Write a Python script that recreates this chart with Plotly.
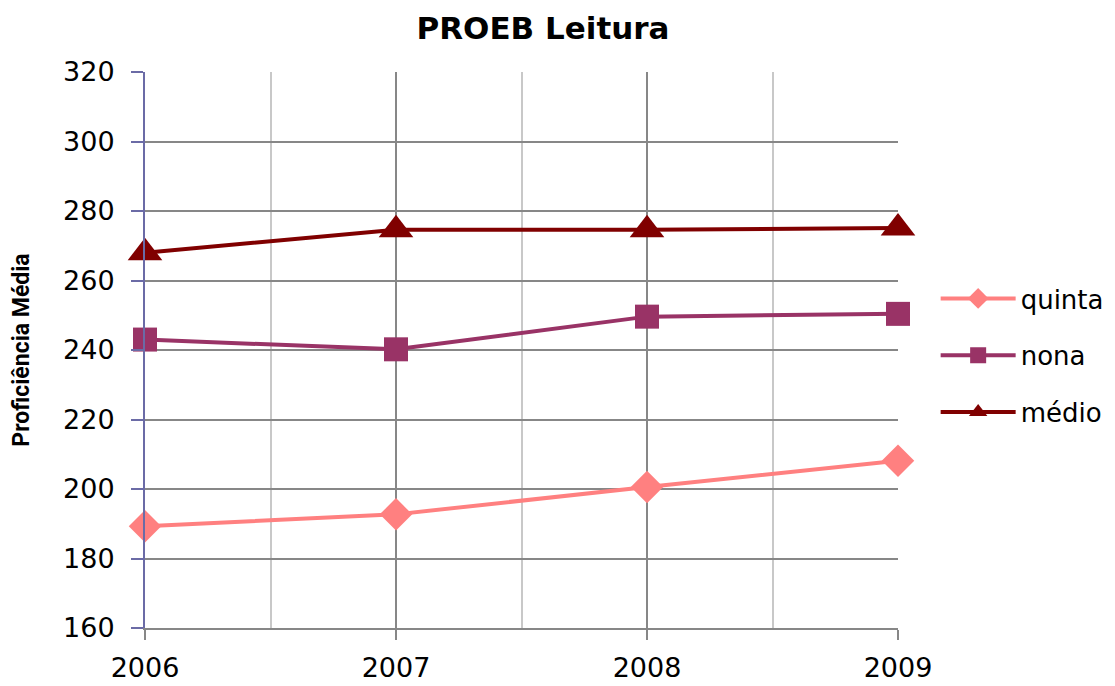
import plotly.graph_objects as go

years = [2006, 2007, 2008, 2009]
quinta = [189.3, 192.7, 200.6, 208.1]
nona = [243.0, 240.2, 249.6, 250.4]
medio = [268.0, 274.6, 274.6, 275.1]

series_names = ["quinta", "nona", "médio"]
series_values = [quinta, nona, medio]
colors = ["#FF8080", "#993366", "#800000"]
symbols = ["diamond", "square", "triangle-up"]
sizes = [25, 24, 30]

y_ticks = [160, 180, 200, 220, 240, 260, 280, 300, 320]

fig = go.Figure()
for i, (name, vals) in enumerate(zip(series_names, series_values)):
    fig.add_trace(go.Scatter(
        x=years, y=vals, name=name, mode="lines+markers",
        line=dict(color=colors[i], width=4),
        marker=dict(symbol=symbols[i], size=sizes[i], color=colors[i]),
        cliponaxis=False, legendgroup=name,
    ))

fig.update_layout(
    width=1115, height=686,
    margin=dict(l=145, r=217, t=72, b=58, autoexpand=False),
    paper_bgcolor="white", plot_bgcolor="white",
    font=dict(family="DejaVu Sans", color="black"),
    title=dict(text="<b>PROEB Leitura</b>", x=0.487, xanchor="center",
               y=1 - 28 / 686, yanchor="middle",
               font=dict(family="DejaVu Sans", size=31, color="black")),
    showlegend=True,
    legend=dict(x=1.05, xanchor="left", y=0.49, yanchor="middle",
                font=dict(size=26, family="DejaVu Sans"),
                itemwidth=75, tracegroupgap=20, traceorder="grouped",
                bgcolor="rgba(0,0,0,0)"),
)

fig.update_xaxes(
    range=[2006, 2009], tickvals=years, ticktext=[str(y) for y in years],
    showgrid=True, gridcolor="#878787", gridwidth=2,
    minor=dict(dtick=0.5, tick0=2006, showgrid=True, gridcolor="#C8C8C8", gridwidth=2),
    showline=True, linecolor="#878787", linewidth=2,
    ticks="outside", ticklen=10, tickwidth=2, tickcolor="#878787",
    ticklabelstandoff=5,
    tickfont=dict(size=27, family="DejaVu Sans"),
    zeroline=False, automargin=False,
)
fig.update_yaxes(
    range=[160, 320], tickvals=y_ticks,
    showgrid=True, gridcolor="#878787", gridwidth=2,
    showline=True, linecolor="#6B6BA6", linewidth=2,
    ticks="outside", ticklen=12, tickwidth=2, tickcolor="#6B6BA6",
    ticklabelstandoff=11,
    tickfont=dict(size=27, family="DejaVu Sans"),
    title=dict(text="<b>Proficiência Média</b>", standoff=27,
               font=dict(family="Roboto", size=23)),
    zeroline=False, automargin=False,
)

fig.write_html("out.html", config={"displayModeBar": False},
               post_script="document.body.style.margin='0';")
